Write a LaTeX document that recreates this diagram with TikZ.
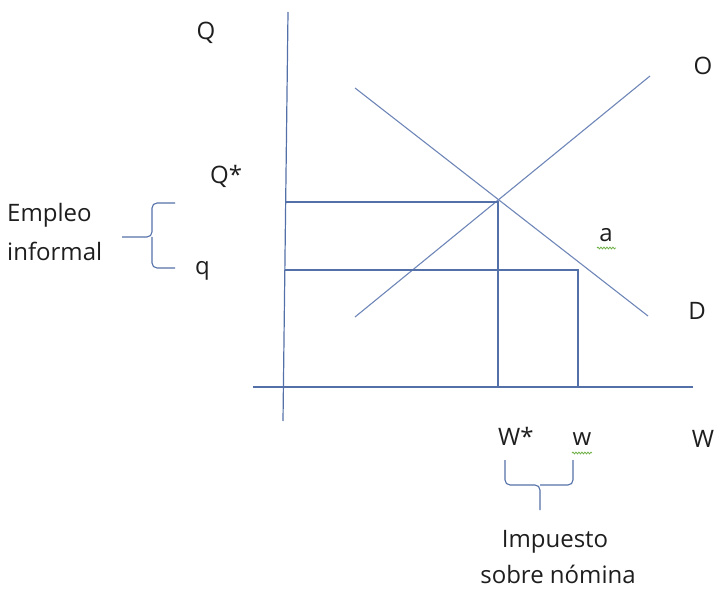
\documentclass[tikz,border=0pt]{standalone}
\usepackage{fontspec}
\setmainfont{Open Sans}
\usetikzlibrary{decorations.pathmorphing}
\definecolor{axisblue}{RGB}{84,112,168}
\definecolor{curveblue}{RGB}{110,134,184}
\definecolor{spellgreen}{RGB}{112,176,72}
\definecolor{labelgray}{RGB}{30,30,30}

\begin{document}
\begin{tikzpicture}[
  x=1pt,
  y=-1pt,
  axis line/.style={
    draw=axisblue,
    line width=1.2pt
  },
  curve line/.style={
    draw=curveblue,
    line width=1.1pt
  },
  guide line/.style={
    draw=axisblue,
    line width=1.1pt
  },
  brace line/.style={
    draw=axisblue,
    line width=1.1pt,
    rounded corners=5pt
  },
  spell mark/.style={
    draw=spellgreen,
    line width=0.8pt,
    decorate,
    decoration={snake, segment length=3pt, amplitude=0.9pt}
  },
  plot label/.style={
    font=\fontsize{24}{27}\selectfont,
    text=labelgray,
    inner sep=0pt
  },
  left label/.style={plot label, anchor=base west},
  mid label/.style={plot label, anchor=base}
]

\useasboundingbox (0,0) rectangle (715,593);

\def\qstar{202}
\def\qlow{270}
\def\xaxis{387}

% axes
\coordinate (q-top) at (288,12);
\coordinate (q-bottom) at (283,421);
\coordinate (w-left) at (253,\xaxis);
\coordinate (w-right) at (693,\xaxis);
\draw[axis line] (q-top) -- (q-bottom);
\draw[axis line] (w-left) -- (w-right);

% supply O and demand D
\coordinate (o-start) at (355,317);
\coordinate (o-end) at (650,76);
\coordinate (d-start) at (355,88);
\coordinate (d-end) at (648,316);
\draw[curve line] (o-start) -- (o-end);
\draw[curve line] (d-start) -- (d-end);

% equilibrium and the wage with the tax
\coordinate (eq) at (498,\qstar);
\coordinate (eq-q) at (286,\qstar);
\coordinate (eq-w) at (498,\xaxis);
\coordinate (tax) at (578,\qlow);
\coordinate (tax-q) at (285,\qlow);
\coordinate (tax-w) at (578,\xaxis);
\draw[guide line] (eq-q) -- (eq) -- (eq-w);
\draw[guide line] (tax-q) -- (tax) -- (tax-w);

% labels on the axes and lines
\node[mid label] (lbl-q) at (206,40) {Q};
\node[left label] (lbl-qstar) at (210,184) {Q*};
\node[left label] (lbl-qlow) at (195,275) {q};
\node[mid label] (lbl-o) at (703,75) {O};
\node[mid label] (lbl-d) at (697,320) {D};
\node[mid label] (lbl-a) at (606,242) {a};
\node[mid label] (lbl-w) at (703,448) {W};
\node[left label] (lbl-wstar) at (498,446) {W*};
\node[mid label] (lbl-wlow) at (582,446) {w};

\draw[spell mark] (597,248) -- (616,248);
\draw[spell mark] (572,453) -- (592,453);

% brace: informal employment
\node[left label] (lbl-empleo) at (7,222) {Empleo};
\node[left label] (lbl-informal) at (7,261) {informal};
\draw[brace line] (175,203) -- (152,203) -- (152,237) -- (122,237);
\draw[brace line] (175,268) -- (152,268) -- (152,237);

% brace: payroll tax
\draw[brace line] (505,460) -- (505,485) -- (540,485) -- (540,510);
\draw[brace line] (573,460) -- (573,485) -- (540,485);
\node[mid label] (lbl-impuesto) at (555,547) {Impuesto};
\node[mid label] (lbl-sobre) at (558,583) {sobre nómina};

\end{tikzpicture}
\end{document}
